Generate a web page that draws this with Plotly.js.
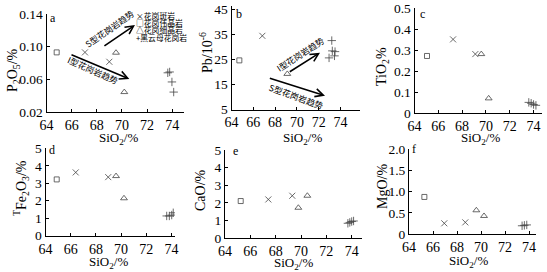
<!DOCTYPE html>
<html>
<head>
<meta charset="utf-8">
<script src="https://cdn.plot.ly/plotly-3.0.1.min.js"></script>
<style>
  html, body { margin: 0; padding: 0; background: #fff; }
  #chart { width: 547px; height: 272px; }
</style>
</head>
<body>
<div id="chart"></div>
<script>
// Rock types (index used in the type arrays below) and their legend glyphs
const rockTypes = ['花岗斑岩', '花岗伟晶岩', '花岗细晶岩', '黑云母花岗岩'];
const rockGlyphs = ['×', '□', '△', '+'];

// Shared SiO2 tick labels
const sio2Ticks = [64, 66, 68, 70, 72, 74];

// a: P2O5 vs SiO2
const sio2A = [64.81, 67.06, 69.00, 69.53, 70.19, 73.65, 73.80, 73.98, 74.12];
const p2o5A = [0.093, 0.093, 0.0815, 0.0926, 0.0444, 0.068, 0.069, 0.0568, 0.0444];
const typeA = [1, 0, 0, 2, 2, 3, 3, 3, 3];

// b: Pb vs SiO2
const sio2B = [64.72, 66.83, 69.12, 73.20, 73.25, 73.50, 72.95, 73.45];
const pbB   = [24.6, 34.4, 19.2, 32.5, 28.4, 28.1, 25.6, 26.4];
const typeB = [1, 0, 2, 3, 3, 3, 3, 3];

// c: TiO2 vs SiO2
const sio2C = [65.05, 67.24, 69.11, 69.61, 70.23, 73.60, 73.80, 74.00, 74.20];
const tio2C = [0.273, 0.352, 0.282, 0.282, 0.071, 0.052, 0.048, 0.042, 0.038];
const typeC = [1, 0, 0, 2, 2, 3, 3, 3, 3];

// d: TFe2O3 vs SiO2
const sio2D  = [64.89, 66.40, 68.98, 69.60, 70.23, 73.62, 73.83, 74.02, 74.14];
const fe2o3D = [3.22, 3.62, 3.35, 3.41, 2.14, 1.13, 1.13, 1.18, 1.31];
const typeD  = [1, 0, 0, 2, 2, 3, 3, 3, 3];

// e: CaO vs SiO2
const sio2E = [65.24, 67.42, 69.31, 69.79, 70.50, 73.70, 73.85, 74.00, 74.15];
const caoE  = [2.11, 2.20, 2.41, 1.73, 2.41, 0.85, 0.90, 0.95, 0.98];
const typeE = [1, 0, 0, 2, 2, 3, 3, 3, 3];

// f: MgO vs SiO2
const sio2F = [65.28, 66.94, 68.69, 69.61, 70.25, 73.42, 73.61, 73.81];
const mgoF  = [0.876, 0.258, 0.280, 0.563, 0.430, 0.20, 0.21, 0.22];
const typeF = [1, 0, 0, 2, 2, 3, 3, 3];

// Y tick labels per panel
const yTicksA = ['0.02', '0.06', '0.10', '0.14'];
const yTicksB = ['5', '15', '25', '35', '45'];
const yTicksC = ['0', '0.1', '0.2', '0.3', '0.4', '0.5'];
const yTicksD = ['0', '1', '2', '3', '4', '5'];
const yTicksE = ['0', '1', '2', '3', '4', '5'];
const yTicksF = ['0', '0.5', '1.0', '1.5', '2.0'];

// ---- layout helpers (pixel -> paper fraction) ----
const W = 547, H = 272;
const fx = p => p / W;
const fy = p => 1 - p / H;

const SERIF = 'Liberation Serif, Times New Roman, serif';
const CJK = 'Noto Sans CJK SC, sans-serif';

const markerSymbols = ['x-thin-open', 'square-open', 'triangle-up-open', 'cross-thin-open'];
const markerSizes = [6, 5, 6, 6];

const panels = [
  { id: '',  letter: 'a', sio2: sio2A, val: p2o5A,  type: typeA, ticks: yTicksA,
    title: 'P<sub>2</sub>O<sub>5</sub>/%', xpx: [46.5, 184], ypx: [14, 112],
    xr: [64, 74.94], yr: [0.02, 0.14], letterPx: [53, 18],
    yTitlePx: [13, 70], xTitlePx: [118, 138.5] },
  { id: '2', letter: 'b', sio2: sio2B, val: pbB,    type: typeB, ticks: yTicksB,
    title: 'Pb/10<sup>-6</sup>', xpx: [231.5, 360], ypx: [5.5, 109.5],
    xr: [64, 75.79], yr: [5, 46.5], letterPx: [239, 14],
    yTitlePx: [206, 53], xTitlePx: [302, 138.5] },
  { id: '3', letter: 'c', sio2: sio2C, val: tio2C,  type: typeC, ticks: yTicksC,
    title: 'TiO<sub>2</sub>%', xpx: [414.5, 542], ypx: [8.3, 113.3],
    xr: [64, 74.71], yr: [0, 0.5], letterPx: [422, 14],
    yTitlePx: [382, 67], xTitlePx: [480, 138] },
  { id: '4', letter: 'd', sio2: sio2D, val: fe2o3D, type: typeD, ticks: yTicksD,
    title: '<sup>T</sup>Fe<sub>2</sub>O<sub>3</sub>/%', xpx: [45.5, 175], ypx: [148.3, 235.7],
    xr: [64, 74.28], yr: [0, 5], letterPx: [52, 150],
    yTitlePx: [21, 188], xTitlePx: [108, 262] },
  { id: '5', letter: 'e', sio2: sio2E, val: caoE,   type: typeE, ticks: yTicksE,
    title: 'CaO/%', xpx: [225, 361.7], ypx: [150, 238.3],
    xr: [64, 74.79], yr: [0, 5], letterPx: [235, 151],
    yTitlePx: [200, 190], xTitlePx: [293, 263] },
  { id: '6', letter: 'f', sio2: sio2F, val: mgoF,   type: typeF, ticks: yTicksF,
    title: 'MgO/%', xpx: [409, 536], ypx: [149, 234.3],
    xr: [64, 74.58], yr: [0, 2], letterPx: [414, 149],
    yTitlePx: [382, 187], xTitlePx: [468, 261] }
];

const traces = [];
const layout = {
  width: W, height: H,
  margin: { l: 0, r: 0, t: 0, b: 0, pad: 0 },
  paper_bgcolor: '#fff', plot_bgcolor: '#fff',
  showlegend: false,
  font: { family: SERIF, color: '#000', size: 13 },
  annotations: []
};

panels.forEach(p => {
  const xa = 'x' + p.id, ya = 'y' + p.id;
  // one trace per rock type within the panel
  rockTypes.forEach((name, t) => {
    const xs = [], ys = [];
    p.type.forEach((k, i) => { if (k === t) { xs.push(p.sio2[i]); ys.push(p.val[i]); } });
    if (!xs.length) return;
    traces.push({
      type: 'scatter', mode: 'markers', name: name, x: xs, y: ys,
      xaxis: xa, yaxis: ya,
      marker: { symbol: markerSymbols[t], size: markerSizes[t], color: '#444',
                line: { color: '#444', width: 0.8 } },
      hoverinfo: 'skip'
    });
  });
  const ytv = p.ticks.map(Number);
  const axisCommon = {
    showline: true, linecolor: '#000', linewidth: 1, mirror: false,
    showgrid: false, zeroline: false,
    ticks: 'inside', ticklen: 3, tickwidth: 1, tickcolor: '#000',
    fixedrange: true
  };
  layout['xaxis' + p.id] = Object.assign({}, axisCommon, {
    domain: [fx(p.xpx[0]), fx(p.xpx[1])], range: p.xr, anchor: ya,
    tickmode: 'array', tickvals: sio2Ticks, ticktext: sio2Ticks.map(String),
    tickfont: { family: SERIF, size: 14, color: '#000' }
  });
  layout['yaxis' + p.id] = Object.assign({}, axisCommon, {
    domain: [fy(p.ypx[1]), fy(p.ypx[0])], range: p.yr, anchor: xa,
    tickmode: 'array', tickvals: ytv, ticktext: p.ticks,
    tickfont: { family: SERIF, size: 13.5, color: '#000' }
  });
  // axis titles, placed beside each axis
  layout.annotations.push({
    xref: 'paper', yref: 'paper', x: fx(p.yTitlePx[0]), y: fy(p.yTitlePx[1]),
    xanchor: 'center', yanchor: 'middle', showarrow: false, textangle: -90,
    text: p.title, font: { family: SERIF, size: 14, color: '#000' }
  });
  layout.annotations.push({
    xref: 'paper', yref: 'paper', x: fx(p.xTitlePx[0]), y: fy(p.xTitlePx[1]),
    xanchor: 'center', yanchor: 'middle', showarrow: false, borderpad: 0,
    text: 'SiO<sub>2</sub>/%', font: { family: SERIF, size: 13, color: '#000' }
  });
  layout.annotations.push({
    xref: 'paper', yref: 'paper', x: fx(p.letterPx[0]), y: fy(p.letterPx[1]),
    xanchor: 'center', yanchor: 'middle', showarrow: false,
    text: p.letter, font: { family: SERIF, size: 12, color: '#000' }
  });
});

// Legend for the rock types (top of panel a)
rockTypes.forEach((name, t) => {
  layout.annotations.push({
    xref: 'paper', yref: 'paper', x: fx(135), y: fy(15.5 + t * 7.2),
    xanchor: 'left', yanchor: 'middle', showarrow: false, borderpad: 0,
    text: rockGlyphs[t] + name, font: { family: CJK, size: 7.8, color: '#000' }
  });
});

// Trend arrows and labels
function trendArrow(xa, ya, tail, tip) {
  return { xref: xa, yref: ya, axref: xa, ayref: ya,
           x: tip[0], y: tip[1], ax: tail[0], ay: tail[1], text: '',
           showarrow: true, arrowhead: 5, arrowsize: 1, arrowwidth: 1.6, arrowcolor: '#000' };
}
function trendLabel(xa, ya, pos, angle, text) {
  return { xref: xa, yref: ya, x: pos[0], y: pos[1], text: text, textangle: angle,
           showarrow: false, xanchor: 'center', yanchor: 'middle',
           font: { family: CJK, size: 8.6, color: '#000' } };
}
layout.annotations.push(
  trendArrow('x', 'y', [68.49, 0.0996], [71.04, 0.1265]),
  trendLabel('x', 'y', [69.05, 0.1225], -35, 'S型花岗岩趋势'),
  trendArrow('x', 'y', [65.87, 0.091], [70.59, 0.0604]),
  trendLabel('x', 'y', [67.72, 0.0714], 24, 'I型花岗岩趋势'),
  trendArrow('x2', 'y2', [69.21, 19.7], [72.12, 27.67]),
  trendLabel('x2', 'y2', [70.28, 27.15], -33, 'I型花岗岩趋势'),
  trendArrow('x2', 'y2', [67.38, 17.7], [72.58, 10.5]),
  trendLabel('x2', 'y2', [69.92, 10.4], 20, 'S型花岗岩趋势')
);

Plotly.newPlot('chart', traces, layout, { staticPlot: true, displayModeBar: false });
</script>
</body>
</html>
